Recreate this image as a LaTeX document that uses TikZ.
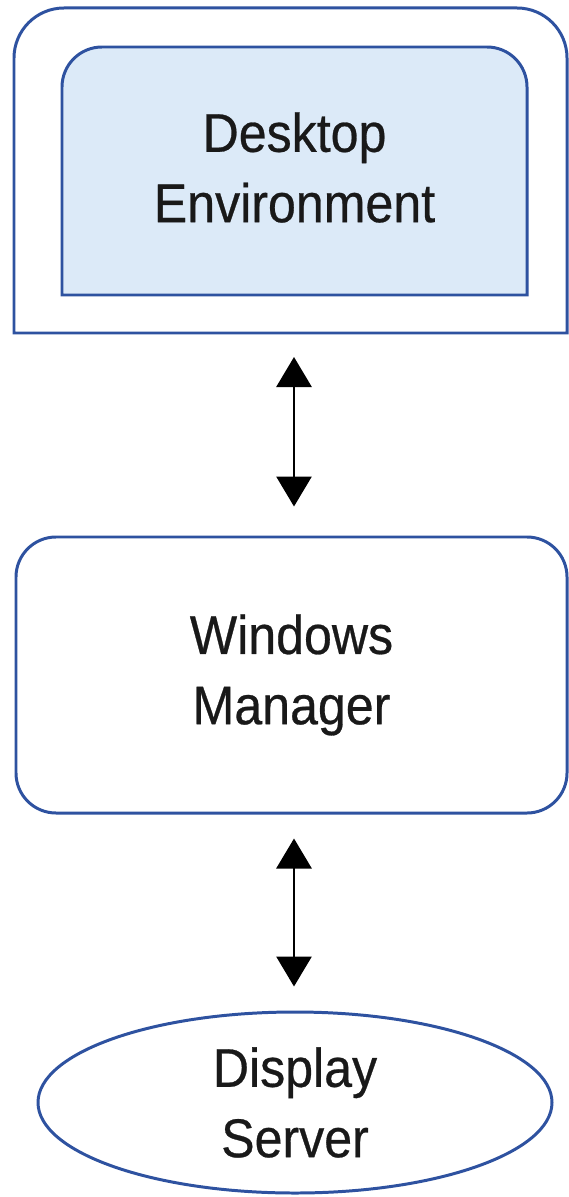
\documentclass[tikz,border=0pt]{standalone}
\usepackage{fontspec}
\setmainfont{Liberation Sans}[FakeStretch=0.92, FakeBold=0.5]
\usetikzlibrary{arrows.meta, shapes.geometric}
\definecolor{edgeblue}{RGB}{46,82,160}
\definecolor{paleblue}{RGB}{220,234,248}
\begin{document}
\begin{tikzpicture}[
  label text/.style={align=center, font=\fontsize{31}{40}\selectfont, text=black!90},
  boxline/.style={draw=edgeblue, line width=1.7pt},
  dbl/.style={line width=1.7pt, {Triangle[width=0.7cm,length=0.6cm]}-{Triangle[width=0.7cm,length=0.6cm]}}
]
\useasboundingbox (0, 0) rectangle (11.36, -23.94);
\draw [boxline] (0.28, -6.66) [rounded corners=1cm] -- (0.28, -0.16) -- (11.34, -0.16) [sharp corners] -- (11.34, -6.66) -- cycle;
\draw [boxline, fill=paleblue] (1.24, -5.9) [rounded corners=0.8cm] -- (1.24, -0.94) -- (10.54, -0.94) [sharp corners] -- (10.54, -5.9) -- cycle;
\node [label text] (de) at (5.89, -3.35) {Desktop\\Environment};
\coordinate (frame) at (5.88, -6.66);
\node [boxline, label text, rounded corners=0.8cm, minimum width=11.02cm, minimum height=5.52cm] (wm) at (5.83, -13.5) {Windows\\Manager};
\node [boxline, label text, ellipse, inner sep=0pt, minimum width=10.28cm, minimum height=3.62cm] (ds) at (5.9, -22.05) {Display\\Server};
\draw [dbl, shorten <=0.48cm, shorten >=0.58cm] (frame) -- (frame |- wm.north);
\draw [dbl, shorten <=0.48cm, shorten >=0.48cm] (wm.south -| frame) -- (ds.north -| frame);
\end{tikzpicture}
\end{document}
